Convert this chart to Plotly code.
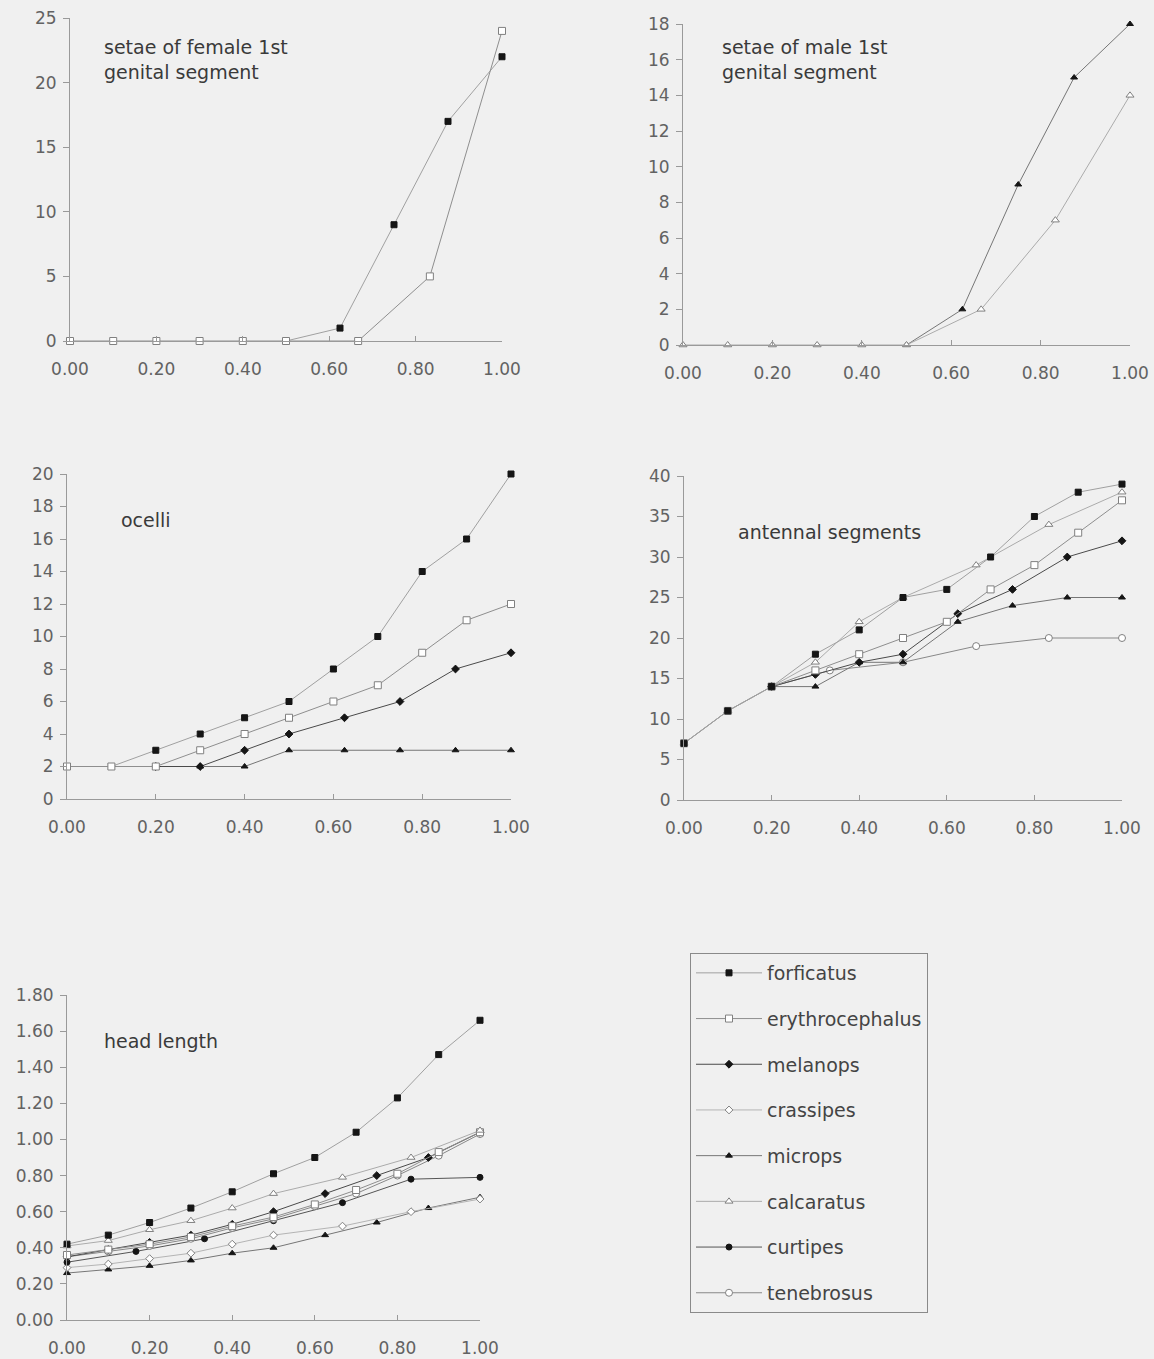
import plotly.graph_objects as go

W, H = 1154, 1359

# ---------------- data ----------------
SPECIES = ["forficatus", "erythrocephalus", "melanops", "crassipes",
           "microps", "calcaratus", "curtipes", "tenebrosus"]

# panel 1: setae of female 1st genital segment
fem_forficatus_x = [0.5, 0.625, 0.75, 0.875, 1.0]
fem_forficatus_y = [0, 1, 9, 17, 22]
fem_erythro_x = [0.0, 0.1, 0.2, 0.3, 0.4, 0.5, 0.667, 0.833, 1.0]
fem_erythro_y = [0, 0, 0, 0, 0, 0, 0, 5, 24]

# panel 2: setae of male 1st genital segment
male_microps_x = [0.5, 0.625, 0.75, 0.875, 1.0]
male_microps_y = [0, 2, 9, 15, 18]
male_calcaratus_x = [0.0, 0.1, 0.2, 0.3, 0.4, 0.5, 0.667, 0.833, 1.0]
male_calcaratus_y = [0, 0, 0, 0, 0, 0, 2, 7, 14]

# panel 3: ocelli
oc_forficatus_x = [0.0, 0.1, 0.2, 0.3, 0.4, 0.5, 0.6, 0.7, 0.8, 0.9, 1.0]
oc_forficatus_y = [2, 2, 3, 4, 5, 6, 8, 10, 14, 16, 20]
oc_erythro_x = [0.0, 0.1, 0.2, 0.3, 0.4, 0.5, 0.6, 0.7, 0.8, 0.9, 1.0]
oc_erythro_y = [2, 2, 2, 3, 4, 5, 6, 7, 9, 11, 12]
oc_melanops_x = [0.2, 0.3, 0.4, 0.5, 0.625, 0.75, 0.875, 1.0]
oc_melanops_y = [2, 2, 3, 4, 5, 6, 8, 9]
oc_microps_x = [0.3, 0.4, 0.5, 0.625, 0.75, 0.875, 1.0]
oc_microps_y = [2, 2, 3, 3, 3, 3, 3]

# panel 4: antennal segments
an_forficatus_x = [0.0, 0.1, 0.2, 0.3, 0.4, 0.5, 0.6, 0.7, 0.8, 0.9, 1.0]
an_forficatus_y = [7, 11, 14, 18, 21, 25, 26, 30, 35, 38, 39]
an_erythro_x = [0.0, 0.1, 0.2, 0.3, 0.4, 0.5, 0.6, 0.7, 0.8, 0.9, 1.0]
an_erythro_y = [7, 11, 14, 16, 18, 20, 22, 26, 29, 33, 37]
an_calcaratus_x = [0.0, 0.1, 0.2, 0.3, 0.4, 0.5, 0.667, 0.833, 1.0]
an_calcaratus_y = [7, 11, 14, 17, 22, 25, 29, 34, 38]
an_melanops_x = [0.2, 0.3, 0.4, 0.5, 0.625, 0.75, 0.875, 1.0]
an_melanops_y = [14, 15.5, 17, 18, 23, 26, 30, 32]
an_microps_x = [0.2, 0.3, 0.4, 0.5, 0.625, 0.75, 0.875, 1.0]
an_microps_y = [14, 14, 17, 17, 22, 24, 25, 25]
an_tenebrosus_x = [0.2, 0.333, 0.5, 0.667, 0.833, 1.0]
an_tenebrosus_y = [14, 16, 17, 19, 20, 20]

# panel 5: head length
hl_forficatus_x = [0.0, 0.1, 0.2, 0.3, 0.4, 0.5, 0.6, 0.7, 0.8, 0.9, 1.0]
hl_forficatus_y = [0.42, 0.47, 0.54, 0.62, 0.71, 0.81, 0.90, 1.04, 1.23, 1.47, 1.66]
hl_erythro_x = [0.0, 0.1, 0.2, 0.3, 0.4, 0.5, 0.6, 0.7, 0.8, 0.9, 1.0]
hl_erythro_y = [0.36, 0.39, 0.42, 0.46, 0.52, 0.57, 0.64, 0.72, 0.81, 0.93, 1.04]
hl_melanops_x = [0.0, 0.1, 0.2, 0.3, 0.4, 0.5, 0.625, 0.75, 0.875, 1.0]
hl_melanops_y = [0.35, 0.39, 0.43, 0.47, 0.53, 0.60, 0.70, 0.80, 0.90, 1.04]
hl_crassipes_x = [0.0, 0.1, 0.2, 0.3, 0.4, 0.5, 0.667, 0.833, 1.0]
hl_crassipes_y = [0.29, 0.31, 0.34, 0.37, 0.42, 0.47, 0.52, 0.60, 0.67]
hl_microps_x = [0.0, 0.1, 0.2, 0.3, 0.4, 0.5, 0.625, 0.75, 0.875, 1.0]
hl_microps_y = [0.26, 0.28, 0.30, 0.33, 0.37, 0.40, 0.47, 0.54, 0.62, 0.68]
hl_calcaratus_x = [0.0, 0.1, 0.2, 0.3, 0.4, 0.5, 0.667, 0.833, 1.0]
hl_calcaratus_y = [0.41, 0.44, 0.50, 0.55, 0.62, 0.70, 0.79, 0.90, 1.05]
hl_curtipes_x = [0.0, 0.167, 0.333, 0.5, 0.667, 0.833, 1.0]
hl_curtipes_y = [0.32, 0.38, 0.45, 0.55, 0.65, 0.78, 0.79]
hl_tenebrosus_x = [0.0, 0.1, 0.2, 0.3, 0.4, 0.5, 0.6, 0.7, 0.8, 0.9, 1.0]
hl_tenebrosus_y = [0.35, 0.38, 0.41, 0.45, 0.51, 0.56, 0.63, 0.70, 0.80, 0.91, 1.03]

X_TICKS = [0.0, 0.2, 0.4, 0.6, 0.8, 1.0]

# ---------------- styles ----------------
STYLE = {
    "forficatus":      dict(symbol="square",       filled=True,  line="#a0a0a0", size=6),
    "erythrocephalus": dict(symbol="square",       filled=False, line="#8e8e8e", size=7),
    "melanops":        dict(symbol="diamond",      filled=True,  line="#4a4a4a", size=6),
    "crassipes":       dict(symbol="diamond",      filled=False, line="#b4b4b4", size=6),
    "microps":         dict(symbol="triangle-up",  filled=True,  line="#767676", size=6),
    "calcaratus":      dict(symbol="triangle-up",  filled=False, line="#ababab", size=7),
    "curtipes":        dict(symbol="circle",       filled=True,  line="#555555", size=6),
    "tenebrosus":      dict(symbol="circle",       filled=False, line="#888888", size=7),
}

BG = "#f0f0f0"
fig = go.Figure()


def add(name, xs, ys, ax, show=False):
    st = STYLE[name]
    fig.add_trace(go.Scatter(
        x=xs, y=ys, mode="lines+markers", name=name,
        legendgroup=name, showlegend=show,
        legendrank=SPECIES.index(name) + 1,
        xaxis="x" + ax, yaxis="y" + ax,
        cliponaxis=False,
        line=dict(color=st["line"], width=1),
        marker=dict(symbol=st["symbol"], size=st["size"],
                    color="#151515" if st["filled"] else "#ffffff",
                    line=dict(color="#151515" if st["filled"] else "#808080", width=1)),
    ))


# panel 1
add("forficatus", fem_forficatus_x, fem_forficatus_y, "1")
add("erythrocephalus", fem_erythro_x, fem_erythro_y, "1")
# panel 2
add("microps", male_microps_x, male_microps_y, "2")
add("calcaratus", male_calcaratus_x, male_calcaratus_y, "2")
# panel 3
add("forficatus", oc_forficatus_x, oc_forficatus_y, "3")
add("melanops", oc_melanops_x, oc_melanops_y, "3")
add("microps", oc_microps_x, oc_microps_y, "3")
add("erythrocephalus", oc_erythro_x, oc_erythro_y, "3")
# panel 4
add("tenebrosus", an_tenebrosus_x, an_tenebrosus_y, "4")
add("microps", an_microps_x, an_microps_y, "4")
add("melanops", an_melanops_x, an_melanops_y, "4")
add("erythrocephalus", an_erythro_x, an_erythro_y, "4")
add("calcaratus", an_calcaratus_x, an_calcaratus_y, "4")
add("forficatus", an_forficatus_x, an_forficatus_y, "4")
# panel 5 (all species, carries the legend)
add("microps", hl_microps_x, hl_microps_y, "5", True)
add("crassipes", hl_crassipes_x, hl_crassipes_y, "5", True)
add("curtipes", hl_curtipes_x, hl_curtipes_y, "5", True)
add("tenebrosus", hl_tenebrosus_x, hl_tenebrosus_y, "5", True)
add("melanops", hl_melanops_x, hl_melanops_y, "5", True)
add("erythrocephalus", hl_erythro_x, hl_erythro_y, "5", True)
add("calcaratus", hl_calcaratus_x, hl_calcaratus_y, "5", True)
add("forficatus", hl_forficatus_x, hl_forficatus_y, "5", True)


def fx(px):
    return px / W


def fy(py):
    return 1 - py / H


FONT = "DejaVu Sans, Verdana, sans-serif"
TICKFONT = dict(family=FONT, size=17, color="#626262")

# panel geometry in pixels: (x0, x1, y_bottom, y_top, ymax, dtick, yfmt)
PANELS = {
    "1": (70, 502, 341, 18, 25, 5, "d"),
    "2": (683, 1130, 345, 24, 18, 2, "d"),
    "3": (67, 511, 799, 474, 20, 2, "d"),
    "4": (684, 1122, 800, 476, 40, 5, "d"),
    "5": (67, 480, 1320, 995, 1.8, 0.2, ".2f"),
}

layout = dict(
    width=W, height=H,
    margin=dict(l=0, r=0, t=0, b=0, pad=0),
    paper_bgcolor=BG, plot_bgcolor=BG,
    font=dict(family=FONT, color="#444444"),
    showlegend=True,
    legend=dict(
        x=fx(690), y=fy(953), xanchor="left", yanchor="top",
        bgcolor="rgba(0,0,0,0)", bordercolor="#8a8a8a", borderwidth=1,
        font=dict(family=FONT, size=19, color="#444444"),
        itemwidth=66, tracegroupgap=18, traceorder="grouped",
    ),
)

for k, (x0, x1, yb, yt, ymax, dt, fmt) in PANELS.items():
    xa = "xaxis" + ("" if k == "1" else k)
    ya = "yaxis" + ("" if k == "1" else k)
    layout[xa] = dict(
        domain=[fx(x0), fx(x1)], range=[0, 1], anchor="y" + k,
        tickvals=X_TICKS, tickformat=".2f", ticks="inside", ticklen=5,
        tickcolor="#999999", showline=True, linecolor="#9a9a9a", linewidth=1,
        showgrid=False, zeroline=False, tickfont=TICKFONT, ticklabelstandoff=13,
        automargin=False,
    )
    layout[ya] = dict(
        domain=[fy(yb), fy(yt)], range=[0, ymax], anchor="x" + k,
        dtick=dt, tick0=0, tickformat=fmt, ticks="outside", ticklen=6,
        tickcolor="#999999", showline=True, linecolor="#9a9a9a", linewidth=1,
        showgrid=False, zeroline=False, tickfont=TICKFONT, automargin=False,
        ticklabelstandoff=3,
    )

fig.update_layout(**layout)

LABELS = [
    ("setae of female 1st<br>genital segment", 102, 34),
    ("setae of male 1st<br>genital segment", 720, 34),
    ("ocelli", 119, 507),
    ("antennal segments", 736, 519),
    ("head length", 102, 1028),
]
for txt, px, py in LABELS:
    fig.add_annotation(
        text=txt, x=fx(px), y=fy(py), xref="paper", yref="paper",
        xanchor="left", yanchor="top", align="left", showarrow=False,
        font=dict(family=FONT, size=19, color="#3a3a3a"),
    )

fig.write_html("out.html")
